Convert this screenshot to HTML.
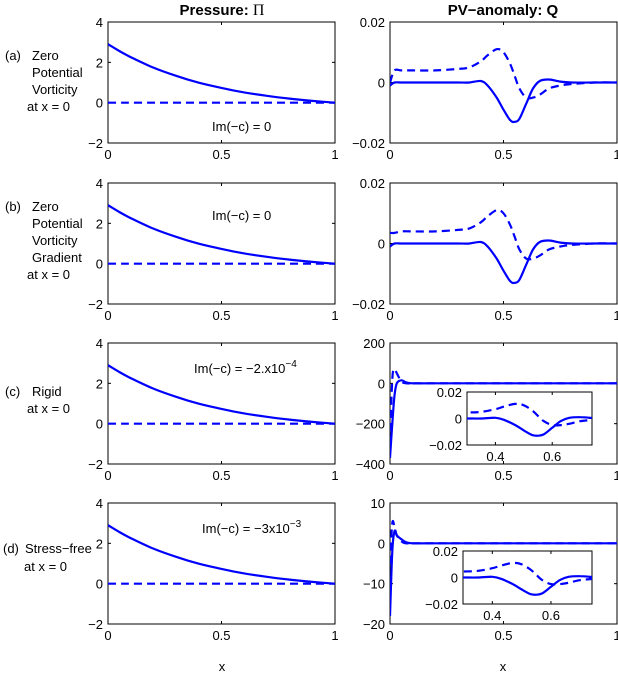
<!DOCTYPE html>
<html><head><meta charset="utf-8"><style>
body{margin:0;background:#fff;width:618px;height:674px;overflow:hidden}
svg{font-family:"Liberation Sans",sans-serif;font-size:13px}
</style></head><body>
<svg id="fig" width="618" height="674">
<text x="222" y="15" text-anchor="middle" font-weight="bold" font-size="15">Pressure: <tspan font-family="Liberation Serif" font-weight="normal" font-size="16">Π</tspan></text>
<text x="503" y="15" text-anchor="middle" font-weight="bold" font-size="15">PV−anomaly: Q</text>
<text x="222" y="671" text-anchor="middle">x</text>
<text x="503" y="671" text-anchor="middle">x</text>
</svg>
<script>
// pressure data (same shape each row)
const pX=[0,0.05,0.1,0.2,0.3,0.4,0.5,0.6,0.7,0.8,0.9,1];
const pSolid=[2.9,2.56,2.26,1.74,1.33,0.99,0.73,0.51,0.34,0.2,0.09,0];
const pDash=[0,0,0,0,0,0,0,0,0,0,0,0];
// PV anomaly (rows a,b)
const qX=[0,0.02,0.05,0.1,0.2,0.3,0.35,0.4,0.43,0.47,0.5,0.53,0.55,0.57,0.6,0.63,0.66,0.7,0.75,0.8,0.9,1];
const qSolid=[-0.001,0,0,0,0,0,0,0.0005,-0.001,-0.005,-0.009,-0.0125,-0.013,-0.012,-0.007,-0.002,0.0005,0.001,0.0003,0,0,0];
const qDash=[0,0.004,0.004,0.004,0.004,0.0045,0.005,0.007,0.009,0.011,0.01,0.006,0.002,-0.002,-0.005,-0.005,-0.004,-0.002,-0.001,-0.0005,0,0];
const qDashB=[0.0035,0.0035,0.004,0.004,0.004,0.0045,0.005,0.007,0.009,0.011,0.01,0.006,0.002,-0.002,-0.005,-0.005,-0.004,-0.002,-0.001,-0.0005,0,0];
// rows c,d near-wall
const cX=[0,0.01,0.02,0.03,0.05,0.07,0.1,0.2,1];
const cSolid=[-370,-200,-60,0,15,5,0,0,0];
const cDash=[-300,20,70,50,10,0,0,0,0];
const dSolid=[-18,-2,3,2,1,0.3,0,0,0];
const dDash=[-5,5,4,2,0.5,0,0,0,0];
const yTicks1=[-2,0,2,4],yLab1=["−2","0","2","4"];
const yTicksQ=[-0.02,0,0.02],yLabQ=["−0.02","0","0.02"];
const yTicksC=[-400,-200,0,200],yLabC=["−400","−200","0","200"];
const yTicksD=[-20,-10,0,10],yLabD=["−20","−10","0","10"];
const xTicks=[0,0.5,1],xLab=["0","0.5","1"];
const inX=[0.4,0.6],inXLab=["0.4","0.6"];
const svg=document.getElementById('fig');const NS="http://www.w3.org/2000/svg";
function mk(t,a,p){const e=document.createElementNS(NS,t);for(const k in a)e.setAttribute(k,a[k]);(p||svg).appendChild(e);return e;}
function smooth(pts){let d='M'+pts[0][0].toFixed(1)+' '+pts[0][1].toFixed(1);
 for(let i=0;i<pts.length-1;i++){const p0=pts[Math.max(i-1,0)],p1=pts[i],p2=pts[i+1],p3=pts[Math.min(i+2,pts.length-1)];
  const c1=[p1[0]+(p2[0]-p0[0])/6,p1[1]+(p2[1]-p0[1])/6],c2=[p2[0]-(p3[0]-p1[0])/6,p2[1]-(p3[1]-p1[1])/6];
  d+='C'+c1.map(v=>v.toFixed(1)).join(' ')+' '+c2.map(v=>v.toFixed(1)).join(' ')+' '+p2[0].toFixed(1)+' '+p2[1].toFixed(1);}
 return d;}
function axes(name,x0,y0,w,h,xmin,xmax,ymin,ymax,xt,xl,yt,yl,series,fs){
 const g=mk('g',{});
 
 
 const sx=v=>x0+(v-xmin)/(xmax-xmin)*w, sy=v=>y0+h-(v-ymin)/(ymax-ymin)*h;
 const cid=name+'-clip';const cp=mk('clipPath',{id:cid},g);mk('rect',{x:x0,y:y0,width:w,height:h},cp);
 mk('rect',{x:x0,y:y0,width:w,height:h,fill:'#fff',stroke:'#000','stroke-width':1},g);
 xt.forEach((v,i)=>{const X=sx(v);mk('line',{x1:X,x2:X,y1:y0+h,y2:y0+h-3,stroke:'#000'},g);mk('line',{x1:X,x2:X,y1:y0,y2:y0+3,stroke:'#000'},g);
  const t=mk('text',{x:X,y:y0+h+16,'text-anchor':'middle','font-size':fs},g);t.textContent=xl[i];
  
  });
 yt.forEach((v,i)=>{const Y=sy(v);mk('line',{x1:x0,x2:x0+3,y1:Y,y2:Y,stroke:'#000'},g);mk('line',{x1:x0+w,x2:x0+w-3,y1:Y,y2:Y,stroke:'#000'},g);
  const t=mk('text',{x:x0-5,y:Y+5,'text-anchor':'end','font-size':fs},g);t.textContent=yl[i];
  
  });
 series.forEach(s=>{const d=smooth(s.x.map((v,i)=>[sx(v),sy(s.y[i])]));
  const p=mk('path',{d:d,fill:'none',stroke:'#0000ff','stroke-width':2.2,'clip-path':'url(#'+cid+')'},g);
  if(s.dash)p.setAttribute('stroke-dasharray','8 5');
  
  });
 return g;}
const L=108,R=390,W=227,H=121,tops=[22,183,343,503];
const P=[{x:pX,y:pSolid},{x:pX,y:pDash,dash:1}];
tops.forEach((t,i)=>axes('pressure-panel-'+i,L,t,W,H,0,1,-2,4,xTicks,xLab,yTicks1,yLab1,P,13));
axes('pv-panel-a',R,22,W,H,0,1,-0.02,0.02,xTicks,xLab,yTicksQ,yLabQ,[{x:qX,y:qSolid},{x:qX,y:qDash,dash:1}],13);
axes('pv-panel-b',R,183,W,H,0,1,-0.02,0.02,xTicks,xLab,yTicksQ,yLabQ,[{x:qX,y:qSolid},{x:qX,y:qDashB,dash:1}],13);
axes('pv-panel-c',R,343,W,H,0,1,-400,200,xTicks,xLab,yTicksC,yLabC,[{x:cX,y:cSolid},{x:cX,y:cDash,dash:1}],13);
axes('pv-panel-d',R,503,W,H,0,1,-20,10,xTicks,xLab,yTicksD,yLabD,[{x:cX,y:dSolid},{x:cX,y:dDash,dash:1}],13);
axes('pv-inset-c',467,392,125,53,0.3,0.74,-0.02,0.02,inX,inXLab,yTicksQ,yLabQ,[{x:qX,y:qSolid},{x:qX,y:qDash,dash:1}],13);
axes('pv-inset-d',463,551,129,53,0.3,0.74,-0.02,0.02,inX,inXLab,yTicksQ,yLabQ,[{x:qX,y:qSolid},{x:qX,y:qDash,dash:1}],13);
function txt(x,y,s,name,anchor){const t=mk('text',{x:x,y:y,'text-anchor':anchor||'start'});t.textContent=s;
 
 return t;}
txt(5,60,'(a)','row-a-label');txt(32,60,'Zero','row-a-label');txt(32,77,'Potential','row-a-label');txt(32,94,'Vorticity','row-a-label');txt(27,111,'at x = 0','row-a-label');
txt(5,211,'(b)','row-b-label');txt(32,211,'Zero','row-b-label');txt(32,228,'Potential','row-b-label');txt(32,245,'Vorticity','row-b-label');txt(32,262,'Gradient','row-b-label');txt(27,279,'at x = 0','row-b-label');
txt(5,396,'(c)','row-c-label');txt(32,396,'Rigid','row-c-label');txt(27,413,'at x = 0','row-c-label');
txt(3,553,'(d)','row-d-label');txt(25,553,'Stress−free','row-d-label');txt(24,571,'at x = 0','row-d-label');
txt(212,131,'Im(−c) = 0','annot-a');
txt(212,220,'Im(−c) = 0','annot-b');
const a3=txt(194,373,'Im(−c) = −2.x10','annot-c');const s3=document.createElementNS(NS,'tspan');s3.setAttribute('dy','-6');s3.setAttribute('font-size','10');s3.textContent='−4';a3.appendChild(s3);
const a4=txt(202,533,'Im(−c) = −3x10','annot-d');const s4=document.createElementNS(NS,'tspan');s4.setAttribute('dy','-6');s4.setAttribute('font-size','10');s4.textContent='−3';a4.appendChild(s4);
</script>
</body></html>
